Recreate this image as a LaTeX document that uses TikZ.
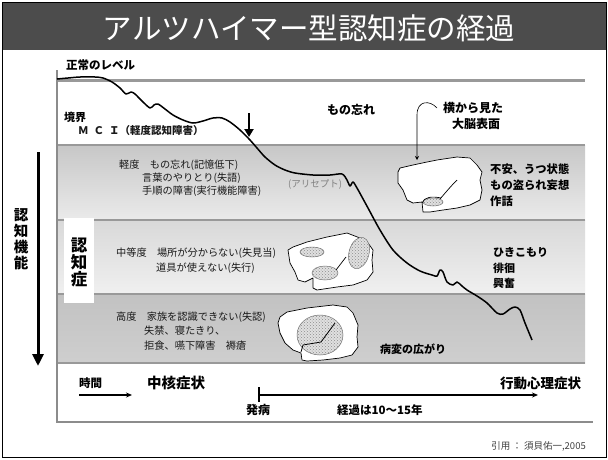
\documentclass[tikz,border=0pt]{standalone}
\usepackage{fontspec}
\setmainfont{Noto Sans CJK JP}
\usetikzlibrary{arrows.meta,patterns}

\begin{document}
\begin{tikzpicture}[x=1pt,y=-1pt]

    % Define styles
    \tikzset{
        outer frame/.style={draw=black, line width=1pt},
        title bar/.style={fill=black!70, draw=none},
        level line/.style={line width=3pt, draw=black!40},
        band line/.style={line width=1.5pt, draw=black!40},
        axis line/.style={line width=1.2pt, draw=black!45},
        decline curve/.style={line width=1.5pt, draw=black, line join=round},
        brain/.style={fill=white, draw=black, line width=0.7pt, line join=round},
        lesion/.style={preaction={fill=black!12}, pattern=crosshatch dots, pattern color=black!45, draw=black!55, line width=0.5pt},
        big arrow/.style={-{Triangle[width=11pt,length=12pt]}, line width=3pt},
        time arrow/.style={-{Stealth[length=6pt,width=5pt]}, line width=1.2pt},
        title/.style={font=\fontsize{29.5}{32}\selectfont, text=white},
        label/.style={font=\bfseries\fontsize{11.5}{13}\selectfont, anchor=west, inner sep=0pt},
        band text/.style={font=\fontsize{10.2}{12}\selectfont, anchor=west, inner sep=0pt, text=black!90},
        vertical label/.style={font=\bfseries\fontsize{14.5}{16}\selectfont, align=center, inner sep=0pt}
    }

    \useasboundingbox (0,0) rectangle (608,459);

    % Background and title bar
    \fill[white] (0,0) rectangle (608,459);
    \fill[title bar] (2,2) rectangle (606,50);
    \draw[outer frame] (2,2) rectangle (606,457);
    \node[title] (title) at (309,28) {アルツハイマー型認知症の経過};

    % Severity bands
    \shade[top color=black!22, bottom color=black!8] (57,145) rectangle (585,220);
    \shade[top color=black!15, bottom color=black!6] (57,220) rectangle (585,294);
    \shade[top color=black!24, bottom color=black!19] (57,294) rectangle (585,363);

    \draw[level line] (57,80) -- (585,80);
    \foreach \y in {145,220,294,363} {
        \draw[band line] (57,\y) -- (585,\y);
    }

    % Axes
    \draw[axis line] (57,70) -- (57,422) -- (593,422);

    % White tag for the dementia bands
    \fill[white] (64,218) rectangle (94,303);

    % Brain seen from the side (mild)
    \draw[brain] (398,172) -- (400,168) -- (413,165) -- (427,162) -- (437,160) -- (457,157)
        -- (470,158) -- (477,165) -- (482,172) -- (480,180) -- (482,190) -- (480,200)
        -- (470,205) -- (457,208) -- (443,210) -- (430,212) -- (423,212) -- (422,202)
        -- (413,203) -- (407,200) -- (403,190) -- (398,183) -- cycle;
    \draw[lesion] (433,202) ellipse [x radius=10, y radius=4];
    \draw[line width=0.7pt] (422,203) .. controls (424,197) and (432,196) .. (441,198);
    \draw[line width=0.7pt] (440,199) .. controls (446,192) and (451,186) .. (457,180);

    % Brain seen from the side (moderate)
    \draw[brain] (288,250) -- (293,247) -- (307,242) -- (327,237) -- (347,233) -- (360,238)
        -- (368,243) -- (373,250) -- (372,260) -- (373,272) -- (367,280) -- (353,285)
        -- (337,287) -- (317,290) -- (313,288) -- (313,278) -- (305,282) -- (298,280)
        -- (295,272) -- (290,263) -- cycle;
    \draw[lesion] (312,252) ellipse [x radius=12, y radius=5];
    \draw[lesion] (325,273) ellipse [x radius=13, y radius=7];
    \draw[lesion, rotate around={-15:(359,253)}] (359,253) ellipse [x radius=10, y radius=16];
    \draw[line width=0.7pt] (336,270) -- (346,257);

    % Brain seen from the side (severe)
    \draw[brain] (280,317) -- (287,312) -- (307,308) -- (333,305) -- (347,307) -- (353,313)
        -- (358,325) -- (357,337) -- (358,347) -- (352,355) -- (340,358) -- (323,360)
        -- (307,361) -- (302,360) -- (301,353) -- (293,350) -- (285,343) -- (280,333)
        -- (278,323) -- cycle;
    \draw[lesion] (320,335) ellipse [x radius=23, y radius=20];
    \draw[line width=0.8pt] (301,352) -- (303,345) -- (321,342) -- (335,323);

    % Course of cognitive decline
    \draw[decline curve] plot[smooth, tension=0.5] coordinates {
        (57,79) (68,78) (80,77) (95,77) (103,78) (112,82) (120,88) (126,94) (131,92)
        (135,94) (142,101) (150,108) (154,105) (158,104) (165,109) (173,115) (183,120)
        (193,123) (203,121) (213,118) (222,118) (230,122) (240,130) (250,140) (257,148)
        (265,157) (275,165) (285,170) (295,173) (313,175) (330,175) (342,174) (347,180)
        (350,186) (353,182) (357,188) (362,197) (368,208) (380,230) (393,250) (407,263)
        (420,271) (432,275) (437,276) (440,270) (443,272) (447,282) (453,285) (457,282)
        (462,286) (467,290) (477,296) (487,303) (497,313) (503,314) (510,309) (515,307)
        (520,310) (525,323) (532,340)
    };

    % Onset marker
    \coordinate (onset-top) at (249,113);
    \coordinate (onset-tip) at (249,137);
    \draw[-{Triangle[width=9pt,length=8pt]}, line width=2.5pt] (onset-top) -- (onset-tip);

    % Cognitive function arrow
    \coordinate (cog-top) at (38,152);
    \coordinate (cog-bottom) at (38,366);
    \draw[big arrow] (cog-top) -- (cog-bottom);
    \node[vertical label] (cog-label) at (21,239) {認\\知\\機\\能};
    \node[vertical label, font=\bfseries\fontsize{16.5}{17}\selectfont] (dementia-label) at (79,262) {認\\知\\症};

    % Upper labels
    \node[label] (normal) at (66,65) {正常のレベル};
    \node[label, font=\bfseries\fontsize{11}{13}\selectfont] (border) at (64,117) {境界};
    \node[band text, font=\bfseries\fontsize{10.5}{12}\selectfont] (mci) at (78,131)
        {Ｍ\hspace{5pt}Ｃ\hspace{5pt}Ｉ（軽度認知障害）};
    \node[label, font=\bfseries\fontsize{12}{13}\selectfont] (forget) at (327,110) {もの忘れ};
    \node[label, font=\bfseries\fontsize{12}{13}\selectfont] (side-view) at (443,108) {横から見た};
    \node[label, font=\bfseries\fontsize{12}{13}\selectfont] (cortex) at (452,124) {大脳表面};

    % Pointer to the brain surface
    \coordinate (pointer-tip) at (417,160);
    \draw[line width=0.6pt, -{Stealth[length=4pt,width=4pt]}] (437,108)
        .. controls (430,100) and (417,100) .. (417,115) -- (pointer-tip);

    % Mild stage
    \node[band text] (mild-1) at (119,165) {軽度　もの忘れ(記憶低下)};
    \node[band text] (mild-2) at (142,178) {言葉のやりとり(失語)};
    \node[band text] (mild-3) at (142,191) {手順の障害(実行機能障害)};
    \node[band text, text=black!50, font=\fontsize{9.5}{11}\selectfont] (drug) at (288,184) {(アリセプト)};
    \node[label, font=\bfseries\fontsize{11.3}{13}\selectfont] (bpsd-1) at (490,169) {不安、うつ状態};
    \node[label, font=\bfseries\fontsize{11.3}{13}\selectfont] (bpsd-2) at (490,185) {もの盗られ妄想};
    \node[label, font=\bfseries\fontsize{11.3}{13}\selectfont] (bpsd-3) at (490,201) {作話};

    % Moderate stage
    \node[band text] (moderate-1) at (116,253) {中等度　場所が分からない(失見当)};
    \node[band text] (moderate-2) at (156,268) {道具が使えない(失行)};
    \node[label, font=\bfseries\fontsize{11}{13}\selectfont] (bpsd-4) at (493,252) {ひきこもり};
    \node[label, font=\bfseries\fontsize{11}{13}\selectfont] (bpsd-5) at (493,268) {徘徊};
    \node[label, font=\bfseries\fontsize{11}{13}\selectfont] (bpsd-6) at (493,283) {興奮};

    % Severe stage
    \node[band text] (severe-1) at (116,317) {高度　家族を認識できない(失認)};
    \node[band text] (severe-2) at (144,331) {失禁、寝たきり、};
    \node[band text] (severe-3) at (144,346) {拒食、嚥下障害　褥瘡};
    \node[label, font=\bfseries\fontsize{11}{13}\selectfont] (spread) at (380,349) {病変の広がり};

    % Time axis
    \node[label] (time) at (79,383) {時間};
    \coordinate (time-start) at (79,395);
    \coordinate (time-end) at (132,395);
    \draw[time arrow] (time-start) -- (time-end);
    \node[label, font=\bfseries\fontsize{14.5}{16}\selectfont] (core) at (147,383) {中核症状};
    \node[label, font=\bfseries\fontsize{13.5}{15}\selectfont] (bpsd) at (500,383) {行動心理症状};

    \coordinate (course-start) at (259,395);
    \coordinate (course-end) at (538,395);
    \draw[line width=1.2pt] (259,387) -- (259,402);
    \draw[time arrow] (course-start) -- (course-end);
    \node[label, font=\bfseries\fontsize{12}{13}\selectfont] (onset) at (246,410) {発病};
    \node[label] (duration) at (337,410) {経過は10～15年};

    % Source
    \node[anchor=east, inner sep=0pt, text=black!75, font=\fontsize{9.5}{11}\selectfont] (source) at (586,446)
        {引用 ： 須貝佑一,2005};

\end{tikzpicture}
\end{document}
